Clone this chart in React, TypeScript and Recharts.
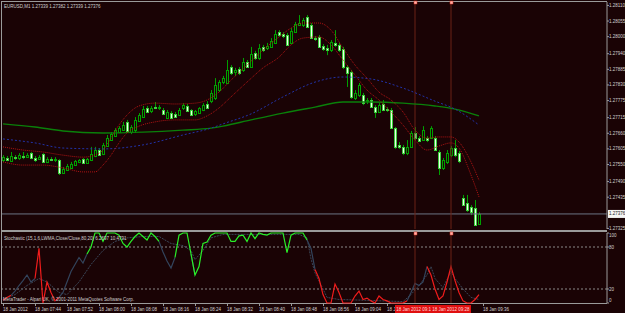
import { ComposedChart, Bar, Line, XAxis, YAxis, ReferenceLine } from 'recharts'

// EURUSD M1, 18 Jan 2012, one bar per minute from 07:36
const opens = [
  1.27566, 1.27573, 1.27562, 1.27576, 1.27573, 1.2758, 1.27576, 1.2759, 1.27573, 1.27569,
  1.27587, 1.27559, 1.27569, 1.27566, 1.27566, 1.2752, 1.27531, 1.27538, 1.27548, 1.27559,
  1.27569, 1.27555, 1.27566, 1.2758, 1.27601, 1.27587, 1.27615, 1.27636, 1.2765, 1.27664,
  1.27671, 1.277, 1.27664, 1.27671, 1.27703, 1.27717, 1.27749, 1.27738, 1.27752, 1.27749,
  1.27742, 1.27714, 1.27731, 1.27728, 1.27724, 1.27749, 1.27756, 1.27742, 1.27728, 1.27731,
  1.27742, 1.27763, 1.27773, 1.27784, 1.27812, 1.2784, 1.27837, 1.27893, 1.27876, 1.27886,
  1.27883, 1.27911, 1.27893, 1.27942, 1.27925, 1.27964, 1.2796, 1.27964, 1.27978, 1.28016,
  1.28009, 1.28006, 1.27978, 1.28016, 1.28041, 1.28041, 1.28069, 1.28041, 1.27995, 1.27999,
  1.27967, 1.2796, 1.27953, 1.27978, 1.27971, 1.27957, 1.27893, 1.27876, 1.27784, 1.27795,
  1.27795, 1.27773, 1.27777, 1.27752, 1.27735, 1.27763, 1.27745, 1.27742, 1.27678, 1.27619,
  1.27612, 1.2759, 1.27612, 1.27661, 1.27643, 1.27636, 1.27643, 1.27643, 1.27643, 1.27594,
  1.27538, 1.27559, 1.27583, 1.27608, 1.2759, 1.27432, 1.27414, 1.274, 1.27397, 1.27339,
]
const highs = [
  1.27583, 1.2758, 1.27594, 1.27583, 1.2759, 1.27594, 1.2759, 1.27594, 1.2758, 1.27583,
  1.2759, 1.27576, 1.27576, 1.27576, 1.27569, 1.27541, 1.27552, 1.27559, 1.27566, 1.27569,
  1.27573, 1.27573, 1.27612, 1.27612, 1.27608, 1.27626, 1.27654, 1.27664, 1.27678, 1.27685,
  1.277, 1.27707, 1.27689, 1.27717, 1.27731, 1.27756, 1.27756, 1.27756, 1.2777, 1.27759,
  1.27749, 1.27742, 1.27738, 1.27735, 1.27749, 1.27766, 1.27763, 1.27745, 1.27742, 1.27752,
  1.27766, 1.27773, 1.27812, 1.27854, 1.27847, 1.27862, 1.27918, 1.279, 1.2789, 1.27893,
  1.27925, 1.27918, 1.27964, 1.2795, 1.27974, 1.27971, 1.27978, 1.27995, 1.28023, 1.28023,
  1.28016, 1.28013, 1.2803, 1.28052, 1.28076, 1.28066, 1.28076, 1.28048, 1.28002, 1.28006,
  1.27974, 1.27971, 1.27988, 1.28023, 1.27978, 1.27964, 1.279, 1.27883, 1.27812, 1.27837,
  1.27802, 1.27784, 1.27784, 1.27759, 1.27766, 1.27777, 1.27752, 1.27749, 1.27682, 1.27629,
  1.27619, 1.27636, 1.27668, 1.27682, 1.2765, 1.27685, 1.2765, 1.27685, 1.2765, 1.27601,
  1.27573, 1.27601, 1.27615, 1.27636, 1.27598, 1.27443, 1.27443, 1.27407, 1.27425, 1.27382,
]
const lows = [
  1.27559, 1.27562, 1.27559, 1.27566, 1.27566, 1.27569, 1.27573, 1.27569, 1.27559, 1.27566,
  1.27555, 1.27555, 1.27562, 1.27559, 1.27513, 1.27517, 1.27527, 1.27534, 1.27545, 1.27555,
  1.27552, 1.27552, 1.27562, 1.27576, 1.2758, 1.27583, 1.27612, 1.27633, 1.27647, 1.27661,
  1.27668, 1.27664, 1.27657, 1.27661, 1.277, 1.27714, 1.27731, 1.27731, 1.27745, 1.27742,
  1.27724, 1.2771, 1.2771, 1.27714, 1.27721, 1.27742, 1.27735, 1.27721, 1.27721, 1.27728,
  1.27738, 1.27745, 1.27766, 1.27777, 1.27805, 1.27833, 1.27833, 1.27865, 1.27862, 1.27865,
  1.27876, 1.2789, 1.2789, 1.27918, 1.27918, 1.27946, 1.27953, 1.2796, 1.27974, 1.27999,
  1.27995, 1.27967, 1.27974, 1.28013, 1.28038, 1.28034, 1.2803, 1.27992, 1.27985, 1.2796,
  1.2795, 1.27935, 1.27946, 1.27964, 1.27946, 1.27886, 1.27823, 1.27781, 1.27777, 1.27788,
  1.27759, 1.27763, 1.27749, 1.27714, 1.27731, 1.27738, 1.27735, 1.27675, 1.27605, 1.27605,
  1.27583, 1.27583, 1.27608, 1.27636, 1.27629, 1.27633, 1.27629, 1.2764, 1.27598, 1.27513,
  1.27531, 1.27552, 1.27576, 1.27576, 1.27555, 1.27404, 1.27383, 1.27372, 1.27334, 1.27339,
]
const closes = [
  1.27576, 1.27566, 1.2758, 1.27573, 1.27583, 1.27576, 1.27583, 1.27573, 1.27566, 1.27576,
  1.27559, 1.27569, 1.27566, 1.27569, 1.2752, 1.27534, 1.27545, 1.27552, 1.27562, 1.27566,
  1.27555, 1.27569, 1.27587, 1.27601, 1.27583, 1.27619, 1.27643, 1.27657, 1.27671, 1.27678,
  1.27689, 1.27668, 1.27682, 1.27707, 1.27724, 1.27745, 1.27735, 1.27749, 1.27749, 1.27752,
  1.27728, 1.27735, 1.27714, 1.27717, 1.27742, 1.27759, 1.27738, 1.27724, 1.27738, 1.27749,
  1.27759, 1.27749, 1.27802, 1.2783, 1.2784, 1.27854, 1.27883, 1.27872, 1.27883, 1.27872,
  1.27911, 1.27893, 1.27939, 1.27925, 1.2796, 1.27953, 1.27967, 1.27985, 1.28009, 1.28006,
  1.28002, 1.27971, 1.2802, 1.28045, 1.28048, 1.28059, 1.28034, 1.27995, 1.27992, 1.27964,
  1.27957, 1.27953, 1.27981, 1.27971, 1.27953, 1.27893, 1.27872, 1.27788, 1.27802, 1.2783,
  1.27766, 1.27777, 1.27752, 1.27735, 1.27759, 1.27742, 1.27742, 1.27678, 1.27612, 1.27612,
  1.2759, 1.27612, 1.27661, 1.27643, 1.27633, 1.27671, 1.27636, 1.27678, 1.27601, 1.27538,
  1.27566, 1.2759, 1.27608, 1.27583, 1.27562, 1.27407, 1.2739, 1.27383, 1.27337, 1.27376,
]

// moving averages, read at a few bars
const maIdx = [0, 8, 15, 25, 35, 45, 52, 55, 62, 70, 78, 85, 92, 100, 108, 113, 119]
const greenMa = [
  1.27693, 1.27682, 1.27668, 1.27661, 1.27664, 1.27671, 1.27678, 1.27685, 1.27707,
  1.27731, 1.27752, 1.2777, 1.2777, 1.27766, 1.27756, 1.27745, 1.27721,
]
const blueMa = [
  1.2764, 1.27626, 1.27608, 1.27605, 1.27619, 1.27654, 1.27678, 1.27693, 1.27728,
  1.27788, 1.2784, 1.27858, 1.27851, 1.27819, 1.27773, 1.27745, 1.27689,
]

const bandIdx = [
  0, 5, 10, 15, 20, 23, 25, 27, 29, 31, 34, 38, 43, 48, 51, 54, 57, 61, 65,
  69, 72, 75, 79, 82, 85, 88, 91, 94, 97, 100, 103, 106, 109, 112, 114, 117, 119,
]
const bandUpper = [
  1.27612, 1.27601, 1.27594, 1.27583, 1.27576, 1.27583, 1.27601, 1.27643, 1.27689, 1.27724,
  1.27756, 1.27766, 1.27763, 1.27766, 1.27777, 1.27805, 1.27847, 1.279, 1.27953, 1.27999,
  1.2803, 1.28048, 1.28048, 1.28023, 1.2796, 1.279, 1.27854, 1.27805, 1.27777, 1.27735,
  1.27671, 1.27643, 1.27647, 1.27647, 1.27629, 1.27559, 1.27495,
]
const bandLower = [
  1.27559, 1.27548, 1.27548, 1.27538, 1.27524, 1.27524, 1.27548, 1.27583, 1.27626, 1.27661,
  1.27685, 1.277, 1.27707, 1.27707, 1.27721, 1.27749, 1.27788, 1.2784, 1.2789, 1.27928,
  1.27971, 1.27995, 1.27999, 1.27971, 1.27918, 1.27865, 1.27812, 1.27777, 1.27735, 1.27689,
  1.27636, 1.27601, 1.27615, 1.27626, 1.27608, 1.27513, 1.27436,
]

// Stochastic (15,1,6) main line, one value per bar, and its colour zone
const stochMain = [
  4, 8, 11, 17, 25, 32, 40, 30, 35, 78, 0, 30, 15, 3, 8, 15, 30, 45, 55, 65,
  57, 70, 80, 100, 100, 88, 100, 100, 100, 97, 85, 80, 88, 95, 100, 95, 90, 100, 95, 88,
  73, 60, 50, 65, 97, 100, 100, 70, 40, 52, 85, 87, 97, 100, 100, 100, 100, 88, 88, 96,
  97, 88, 100, 92, 100, 98, 97, 100, 100, 100, 100, 72, 97, 100, 100, 100, 90, 78, 48, 35,
  12, 0, 0, 27, 15, 0, 0, 0, 10, 17, 5, 7, 3, 0, 10, 5, 3, 0, 0, 0,
  0, 3, 15, 28, 25, 30, 52, 40, 20, 5, 10, 30, 52, 32, 15, 3, 0, 0, 5, 12,
]
const stochZone = [
  'r', 'r', 'r', 'd', 'd', 'd', 'd', 'd', 'd', 'r', 'r', 'r', 'r', 'r', 'r', 'd', 'd', 'd', 'd', 'd',
  'd', 'd', 'g', 'g', 'g', 'g', 'g', 'g', 'g', 'g', 'g', 'g', 'g', 'g', 'g', 'g', 'g', 'g', 'g', 'g',
  'd', 'd', 'd', 'd', 'g', 'g', 'g', 'g', 'd', 'g', 'g', 'g', 'g', 'g', 'g', 'g', 'g', 'g', 'g', 'g',
  'g', 'g', 'g', 'g', 'g', 'g', 'g', 'g', 'g', 'g', 'g', 'g', 'g', 'g', 'g', 'g', 'g', 'd', 'd', 'r',
  'r', 'r', 'r', 'r', 'r', 'r', 'r', 'r', 'r', 'r', 'r', 'r', 'r', 'r', 'r', 'r', 'r', 'r', 'r', 'r',
  'r', 'r', 'd', 'd', 'd', 'd', 'd', 'r', 'r', 'r', 'r', 'r', 'r', 'r', 'r', 'r', 'r', 'r', 'r', 'r',
]
const signalIdx = [
  0, 3, 6, 9, 11, 14, 16, 19, 22, 25, 28, 31, 35, 39, 42, 45, 47, 48, 50, 52, 55, 60, 65, 70,
  74, 76, 77, 78, 80, 81, 84, 90, 95, 100, 102, 104, 106, 107, 108, 110, 112, 113, 115, 117, 119,
]
const signalVal = [
  5, 12, 25, 35, 30, 15, 12, 30, 55, 75, 88, 93, 95, 95, 85, 82, 75, 62, 75, 93, 98, 98, 98, 98,
  98, 93, 63, 43, 20, 8, 5, 4, 3, 2, 12, 25, 40, 52, 35, 22, 45, 35, 20, 8, 5,
]

const priceTicks = [
  1.2811, 1.28055, 1.28, 1.2794, 1.27885, 1.2783, 1.27775, 1.27715, 1.2766, 1.27605,
  1.2755, 1.2749, 1.27435, 1.27325,
]
const timeTicks = [0, 8, 16, 24, 32, 40, 48, 56, 64, 72, 80, 88, 96, 120]
const timeLabels = [
  '18 Jan 2012', '18 Jan 07:44', '18 Jan 07:52', '18 Jan 08:00', '18 Jan 08:08', '18 Jan 08:16',
  '18 Jan 08:24', '18 Jan 08:32', '18 Jan 08:40', '18 Jan 08:48', '18 Jan 08:56', '18 Jan 09:04',
  '18 Jan 09:12', '18 Jan 09:36',
]
const vLines = [103, 112]
const vLineLabels = ['18 Jan 2012 09:19', '18 Jan 2012 09:28']
const lastPrice = 1.27376

const BG = '#1a0305'
const FRAME = '#9a9a9a'
const TXT = '#d0d0d0'
const FONT = 'Liberation Sans, Arial, sans-serif'
const FS = 4.5
const X_DOMAIN: [number, number] = [-0.25, 151]

const candles = opens.map((o, k) => ({ i: k, o, h: highs[k], l: lows[k], c: closes[k] }))
const green = maIdx.map((i, k) => ({ i, v: greenMa[k] }))
const blue = maIdx.map((i, k) => ({ i, v: blueMa[k] }))
const upper = bandIdx.map((i, k) => ({ i, v: bandUpper[k] }))
const lower = bandIdx.map((i, k) => ({ i, v: bandLower[k] }))
const signal = signalIdx.map((i, k) => ({ i, v: signalVal[k] }))

// split the main stochastic line into coloured runs that share their end points
const stochRows = stochMain.map((v, k) => {
  const row: any = { i: k }
  row[stochZone[k]] = v
  const next = stochZone[k + 1]
  if (next && next !== stochZone[k]) row[next] = v
  return row
})

function Candle(props: any) {
  const { x, y, width, height, payload } = props
  if (!payload) return null
  const top = Math.min(y, y + height)
  const span = Math.abs(height)
  const rng = payload.h - payload.l
  const k = rng > 0 ? span / rng : 0
  const yOf = (v: number) => top + (payload.h - v) * k
  const cx = Math.round(x + width / 2)
  const bTop = Math.round(yOf(Math.max(payload.o, payload.c)))
  const bBot = Math.round(yOf(Math.min(payload.o, payload.c)))
  const bull = payload.c > payload.o
  return (
    <g>
      <line x1={cx + 0.5} x2={cx + 0.5} y1={top} y2={top + span} stroke="#00a000" />
      <rect
        x={cx - 0.5}
        y={bTop + 0.5}
        width={2}
        height={Math.max(0, bBot - bTop)}
        fill={bull ? BG : '#eaffe6'}
        stroke={bull ? '#00a000' : '#3ccf3c'}
      />
    </g>
  )
}

function PriceTick({ x, y, payload }: any) {
  return (
    <text x={x - 2} y={y + 1.5} fontSize={FS} fill={TXT} fontFamily={FONT} textAnchor="start">
      {payload.value.toFixed(5)}
    </text>
  )
}

function StochTick({ x, y, payload }: any) {
  const dy = payload.value === 100 ? 4 : payload.value === 0 ? -1 : 1.5
  return (
    <text x={x - 2} y={y + dy} fontSize={FS} fill={TXT} fontFamily={FONT} textAnchor="start">
      {payload.value}
    </text>
  )
}

// time labels start at their bar; the vertical-line times sit in red boxes on top
function TimeTick({ x, y, payload }: any) {
  const v = payload.value
  const lk = vLines.indexOf(v)
  if (lk >= 0) {
    return (
      <g>
        <rect x={x - 20} y={y - 2} width={40} height={8} fill="#e01010" />
        <text x={x} y={y + 4} fontSize={FS} fill="#ffd8d8" fontFamily={FONT} textAnchor="middle">
          {vLineLabels[lk]}
        </text>
      </g>
    )
  }
  return (
    <g>
      <line x1={x + 0.5} x2={x + 0.5} y1={y - 3} y2={y - 1} stroke={FRAME} />
      <text x={x} y={y + 4} fontSize={FS} fill={TXT} fontFamily={FONT} textAnchor="start">
        {timeLabels[timeTicks.indexOf(v)]}
      </text>
    </g>
  )
}

function Marker({ viewBox }: any) {
  return <rect x={viewBox.x - 1} y={viewBox.y - 1} width={3} height={3} fill="#ffb0a8" stroke="#e03020" strokeWidth={0.5} />
}

function PriceBox({ viewBox }: any) {
  const x = viewBox.x + viewBox.width + 1
  return (
    <g>
      <rect x={x} y={viewBox.y - 4} width={17} height={8} fill="#f4f4f4" />
      <text x={x + 1} y={viewBox.y + 1.5} fontSize={FS} fill="#202020" fontFamily={FONT}>
        {lastPrice.toFixed(5)}
      </text>
    </g>
  )
}

export default function App() {
  return (
    <div style={{ position: 'absolute', left: 0, top: 0, width: 625, height: 313, background: BG, overflow: 'hidden' }}>
      <div style={{ position: 'absolute', left: 1, top: 1, width: 606, height: 0, borderTop: `1px solid ${FRAME}` }} />
      <div style={{ position: 'absolute', left: 1, top: 1, width: 0, height: 302, borderLeft: `1px solid ${FRAME}` }} />
      <div style={{ position: 'absolute', left: 1, top: 230, width: 606, height: 0, borderTop: `2px solid ${FRAME}` }} />
      <div style={{ position: 'absolute', left: 1, top: 303, width: 606, height: 0, borderTop: `1px solid ${FRAME}` }} />

      <div style={{ position: 'absolute', left: 0, top: 0 }}>
        <ComposedChart width={625} height={231} data={candles} margin={{ top: 2, right: 0, bottom: 2, left: 2 }}>
          <XAxis dataKey="i" type="number" domain={X_DOMAIN} hide allowDataOverflow />
          <YAxis
            orientation="right"
            width={18}
            domain={[1.27323, 1.28122]}
            ticks={priceTicks}
            tick={<PriceTick />}
            tickSize={2}
            axisLine={{ stroke: FRAME }}
            tickLine={{ stroke: FRAME }}
            interval={0}
            allowDataOverflow
          />
          <ReferenceLine y={lastPrice} stroke="#6c7484" label={<PriceBox />} />
          {vLines.map((v) => (
            <ReferenceLine key={v} x={v} stroke="#6a2216" label={<Marker />} />
          ))}
          <Line data={green} dataKey="v" type="monotone" stroke="#0a800a" strokeWidth={1.4} dot={false} isAnimationActive={false} />
          <Line data={blue} dataKey="v" type="monotone" stroke="#2232a8" strokeDasharray="2 2" dot={false} isAnimationActive={false} />
          <Line data={upper} dataKey="v" type="monotone" stroke="#b01414" strokeDasharray="1 1" dot={false} isAnimationActive={false} />
          <Line data={lower} dataKey="v" type="monotone" stroke="#b01414" strokeDasharray="1 1" dot={false} isAnimationActive={false} />
          <Bar dataKey={(d: any) => [d.l, d.h]} barSize={3} shape={<Candle />} isAnimationActive={false} />
        </ComposedChart>
      </div>

      <div style={{ position: 'absolute', left: 0, top: 229 }}>
        <ComposedChart width={625} height={84} data={stochRows} margin={{ top: 4, right: 0, bottom: 0, left: 2 }}>
          <XAxis
            dataKey="i"
            type="number"
            domain={X_DOMAIN}
            ticks={[...timeTicks, ...vLines]}
            tick={<TimeTick />}
            interval={0}
            height={10}
            tickSize={2}
            axisLine={false}
            tickLine={false}
            allowDataOverflow
          />
          <YAxis
            orientation="right"
            width={18}
            domain={[0, 100]}
            ticks={[0, 20, 80, 100]}
            tick={<StochTick />}
            tickSize={2}
            axisLine={{ stroke: FRAME }}
            tickLine={{ stroke: FRAME }}
            interval={0}
          />
          <ReferenceLine y={80} stroke="#8a8a8a" strokeDasharray="2 2" />
          <ReferenceLine y={20} stroke="#8a8a8a" strokeDasharray="2 2" />
          <Line data={signal} dataKey="v" type="linear" stroke="#3a4658" strokeDasharray="2 1" dot={false} isAnimationActive={false} />
          <Line dataKey="d" type="linear" stroke="#33445c" strokeWidth={1.2} dot={false} connectNulls={false} isAnimationActive={false} />
          <Line dataKey="g" type="linear" stroke="#28f028" strokeWidth={1.2} dot={false} connectNulls={false} isAnimationActive={false} />
          <Line dataKey="r" type="linear" stroke="#f01c1c" strokeWidth={1.2} dot={false} connectNulls={false} isAnimationActive={false} />
          {vLines.map((v) => (
            <ReferenceLine key={v} x={v} stroke="#6a2216" label={<Marker />} />
          ))}
        </ComposedChart>
      </div>

      <svg width={625} height={313} style={{ position: 'absolute', left: 0, top: 0, pointerEvents: 'none' }}>
        <text x={4} y={8} fontSize={FS} fill={TXT} fontFamily={FONT}>
          EURUSD,M1  1.27339 1.27382 1.27339 1.27376
        </text>
        <text x={4} y={240} fontSize={FS} fill={TXT} fontFamily={FONT}>
          Stochastic (15,1,6,LWMA,Close/Close,80,20) 6.2697 10.4791
        </text>
        <text x={3} y={301} fontSize={FS} fill={TXT} fontFamily={FONT}>
          MetaTrader - Alpari UK, © 2001-2011 MetaQuotes Software Corp.
        </text>
      </svg>
    </div>
  )
}
